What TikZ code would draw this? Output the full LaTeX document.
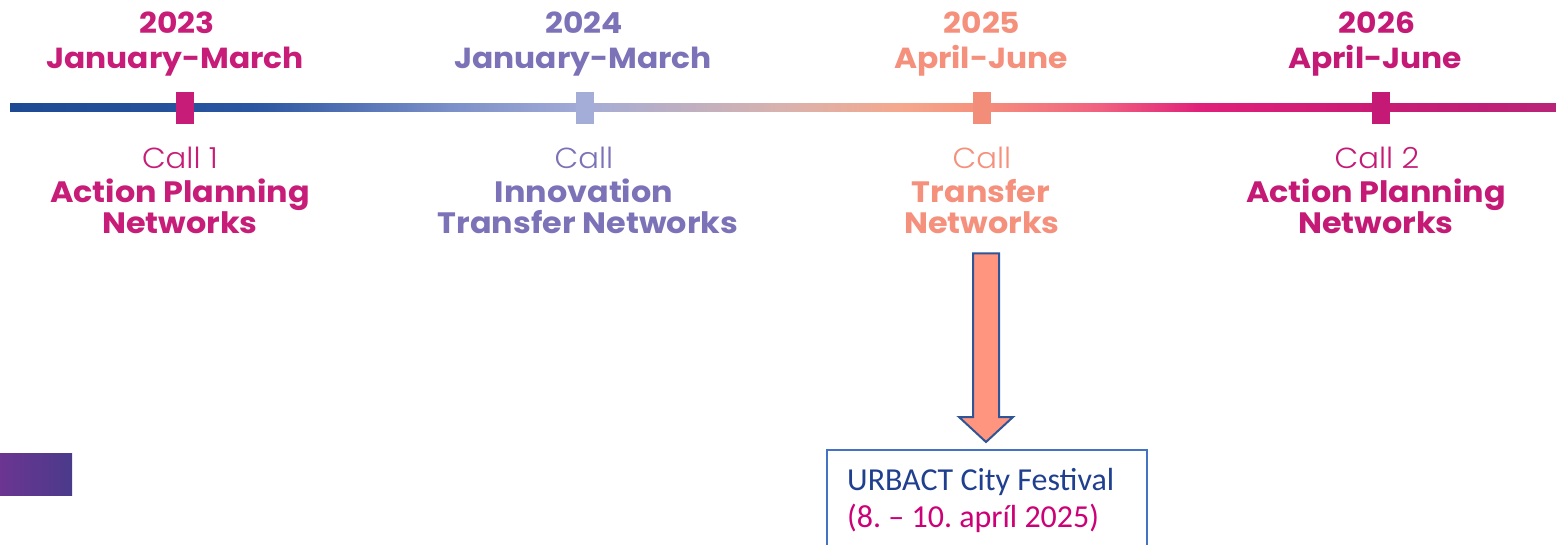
\documentclass[tikz,border=0pt]{standalone}
\usepackage{fontspec}
\setmainfont{Poppins}[BoldFont={* Bold}, BoldFeatures={FakeStretch=1.08}]
\newfontfamily\lightfont{Poppins Light}[FakeStretch=1.06]
\newfontfamily\calib{Carlito}
\usetikzlibrary{calc}
\frenchspacing
\definecolor{cA}{HTML}{C71C77}
\definecolor{cB}{HTML}{7B72B8}
\definecolor{cC}{HTML}{F5907C}
\definecolor{cD}{HTML}{C41A76}
\definecolor{mkB}{HTML}{A3ADD8}
\definecolor{mkC}{HTML}{F28D7A}
\definecolor{arrfill}{HTML}{FF957F}
\definecolor{arrline}{HTML}{2F5597}
\definecolor{boxline}{HTML}{4472C4}
\definecolor{festblue}{HTML}{203F8F}
\definecolor{festpink}{HTML}{CC0077}
\definecolor{s1}{HTML}{1D4A93}
\definecolor{s2}{HTML}{2A55A0}
\definecolor{s3}{HTML}{7B8FC8}
\definecolor{s4}{HTML}{A4ACD6}
\definecolor{s5}{HTML}{D8B2AE}
\definecolor{s6}{HTML}{F5A88E}
\definecolor{s7}{HTML}{F5907C}
\definecolor{s8}{HTML}{F06080}
\definecolor{s9}{HTML}{E0207A}
\definecolor{s10}{HTML}{C91B75}
\definecolor{s11}{HTML}{B82478}
\definecolor{p1}{HTML}{6B3591}
\definecolor{p2}{HTML}{4B3A8A}
\pgfdeclarehorizontalshading{tline}{100bp}{color(0bp)=(s1); color(25bp)=(s1); color(32.8bp)=(s2); color(39.2bp)=(s3); color(43.6bp)=(s4); color(49.9bp)=(s5); color(53.8bp)=(s6); color(56.4bp)=(s7); color(60.3bp)=(s8); color(63.5bp)=(s9); color(69.3bp)=(s10); color(75bp)=(s11); color(100bp)=(s11)}
\tikzset{
  head/.style={font=\bfseries\fontsize{29}{31}\selectfont, anchor=base, inner sep=0pt},
  calltxt/.style={font=\lightfont\fontsize{29}{31}\selectfont, anchor=base, inner sep=0pt},
  nettxt/.style={font=\bfseries\fontsize{29.5}{31}\selectfont, anchor=base, inner sep=0pt},
  marker/.style={rectangle, minimum width=18pt, minimum height=32pt, inner sep=0pt},
  festtxt/.style={font=\calib\fontsize{32}{34}\selectfont, anchor=base west, inner sep=0pt},
}
\begin{document}
\begin{tikzpicture}[x=1pt,y=-1pt]
\useasboundingbox (0,0) rectangle (1556,544);
\fill[white] (0,0) rectangle (1556,544);
% timeline
\shade[shading=tline] (10,103) rectangle (1556,111);
% markers
\node[marker, fill=cA] (m1) at (185,108) {};
\node[marker, fill=mkB] (m2) at (585,108) {};
\node[marker, fill=mkC] (m3) at (982,108) {};
\node[marker, fill=cD] (m4) at (1381,108) {};
% headings
\node[head, text=cA] (y1) at (177,33) {2023};
\node[head, text=cA] (d1) at (175,68) {January-March};
\node[head, text=cB] (y2) at (584,33) {2024};
\node[head, text=cB] (d2) at (583,68) {January-March};
\node[head, text=cC] (y3) at (982,33) {2025};
\node[head, text=cC] (d3) at (981,68) {April-June};
\node[head, text=cD] (y4) at (1377,33) {2026};
\node[head, text=cD] (d4) at (1375,68) {April-June};
% calls
\node[calltxt, text=cA] (c1) at (180,168) {Call 1};
\node[nettxt, text=cA] (a1) at (180,202) {Action Planning};
\node[nettxt, text=cA] (b1) at (180,233) {Networks};
\node[calltxt, text=cB] (c2) at (584,168) {Call};
\node[nettxt, text=cB] (a2) at (584,202) {Innovation};
\node[nettxt, text=cB] (b2) at (588,233) {Transfer Networks};
\node[calltxt, text=cC] (c3) at (982,168) {Call};
\node[nettxt, text=cC] (a3) at (981,202) {Transfer};
\node[nettxt, text=cC] (b3) at (982,233) {Networks};
\node[calltxt, text=cD] (c4) at (1377,168) {Call 2};
\node[nettxt, text=cD] (a4) at (1376,202) {Action Planning};
\node[nettxt, text=cD] (b4) at (1376,233) {Networks};
% purple block
\shade[left color=p1, right color=p2] (0,453) rectangle (72,495);
% festival box
\node[draw=boxline, line width=1.5pt, rectangle, anchor=north west, minimum width=320pt, minimum height=120pt, inner sep=0pt] (fest) at (826,449) {};
\node[festtxt, text=festblue] (f1) at (847,490) {URBACT City Festival};
\node[festtxt, text=festpink] (f2) at (847,527) {(8. – 10. apríl 2025)};
% block arrow from b3 to fest
\coordinate (at) at ($(b3.south)+(4,20)$);
\coordinate (ab) at ($(fest.north)+(0,-7)$);
\coordinate (ab) at (at |- ab);
\filldraw[fill=arrfill, draw=arrline, line width=2pt, line join=miter]
  ($(at)+(-13,0)$) -- ($(at)+(13,0)$) -- ($(ab)+(13,-25)$) -- ($(ab)+(27,-25)$)
  -- (ab) -- ($(ab)+(-27,-25)$) -- ($(ab)+(-13,-25)$) -- cycle;
\end{tikzpicture}
\end{document}
